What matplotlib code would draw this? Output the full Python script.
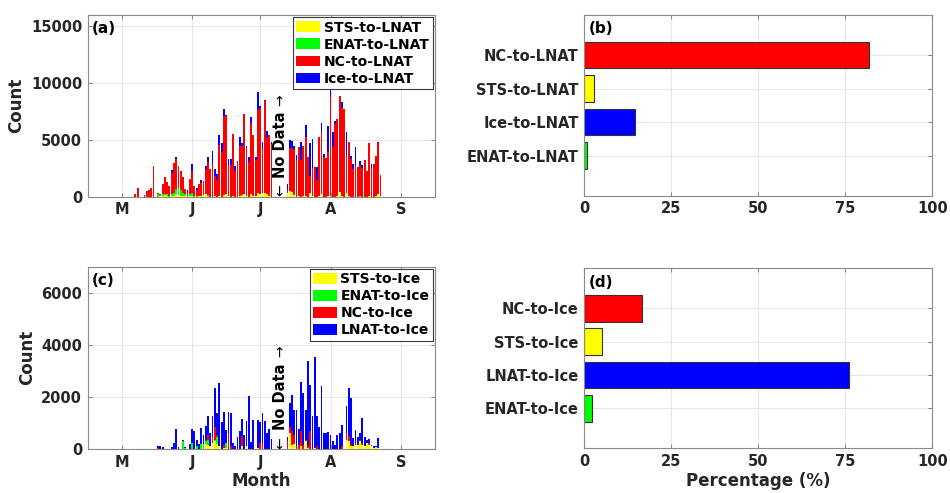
import numpy as np
import pandas as pd
import matplotlib
matplotlib.use("Agg")
import matplotlib.pyplot as plt

plt.rcParams["font.family"] = "DejaVu Sans"
plt.rcParams["font.weight"] = "bold"

# daily counts, 6 May .. 23 Aug (no data 6-11 Jul)
days = pd.date_range("2019-05-06", "2019-08-23", freq="D")

sts_lnat = [0, 0, 0, 0, 0, 0, 0, 0, 0, 0,
            0, 0, 50, 100, 150, 50, 0, 50, 100, 200,
            150, 100, 50, 50, 0, 100, 50, 0, 0, 50,
            50, 150, 200, 100, 0, 0, 50, 0, 100, 0,
            150, 200, 50, 0, 100, 0, 0, 100, 150, 200,
            100, 0, 250, 100, 50, 300, 200, 300, 350, 250,
            100, 0, 0, 0, 0, 0, 0, 0, 300, 500,
            400, 150, 0, 50, 0, 50, 100, 0, 300, 50,
            0, 0, 100, 200, 0, 0, 50, 100, 0, 0,
            50, 400, 100, 0, 300, 100, 0, 0, 0, 0,
            50, 0, 0, 0, 50, 0, 0, 50, 250, 50]
enat_lnat = [0, 0, 0, 0, 0, 0, 0, 0, 0, 0,
             0, 250, 100, 100, 50, 150, 100, 150, 200, 500,
             600, 500, 300, 200, 100, 100, 300, 100, 50, 50,
             0, 0, 0, 50, 0, 0, 0, 0, 0, 0,
             0, 0, 0, 0, 0, 0, 0, 0, 0, 0,
             0, 0, 0, 0, 0, 0, 0, 0, 0, 0,
             0, 0, 0, 0, 0, 0, 0, 0, 0, 0,
             0, 0, 0, 0, 0, 0, 0, 0, 0, 0,
             0, 0, 0, 0, 0, 0, 0, 0, 0, 0,
             0, 0, 0, 0, 0, 0, 0, 0, 0, 0,
             0, 0, 0, 0, 0, 0, 0, 0, 0, 0]
nc_lnat = [0, 250, 750, 0, 0, 150, 500, 600, 750, 2700,
           0, 100, 50, 950, 1550, 1100, 800, 1850, 2700, 2600,
           1950, 1700, 1350, 400, 350, 1400, 1950, 800, 550, 1000,
           1150, 1250, 2200, 2900, 2400, 2900, 1750, 1500, 4430, 3950,
           6970, 6900, 2630, 2800, 5400, 2300, 3100, 4400, 4350, 7100,
           4200, 3050, 6250, 5300, 3150, 7300, 7650, 4000, 8050, 4950,
           5300, 4600, 0, 0, 0, 0, 0, 0, 300, 3830,
           3900, 4050, 3230, 4350, 3200, 4450, 5200, 3500, 1500, 2450,
           2600, 1500, 5200, 5500, 3500, 3400, 3850, 8650, 4400, 6400,
           6750, 8500, 7750, 7700, 3400, 4700, 3300, 2450, 2800, 2600,
           2750, 2500, 3200, 2300, 4650, 2550, 2900, 3550, 4450, 1850]
ice_lnat = [0, 0, 0, 0, 0, 0, 0, 0, 0, 0,
            0, 0, 0, 0, 0, 0, 0, 300, 0, 200,
            0, 0, 0, 50, 150, 0, 600, 0, 200, 0,
            300, 0, 300, 450, 0, 1100, 600, 500, 870, 800,
            580, 100, 670, 500, 0, 400, 0, 800, 200, 0,
            200, 450, 500, 0, 300, 1600, 150, 500, 100, 600,
            0, 200, 0, 0, 0, 0, 0, 0, 500, 670,
            600, 300, 470, 0, 1600, 0, 1000, 0, 2900, 2600,
            0, 1100, 0, 800, 300, 0, 2300, 650, 1300, 300,
            0, 0, 450, 0, 2000, 0, 300, 450, 1600, 0,
            300, 300, 0, 0, 0, 350, 0, 0, 100, 0]

sts_ice = [0, 0, 0, 0, 0, 0, 0, 0, 0, 0,
           0, 0, 0, 0, 0, 0, 0, 0, 0, 0,
           0, 0, 0, 0, 0, 0, 0, 0, 0, 0,
           0, 0, 200, 150, 100, 250, 300, 200, 100, 0,
           50, 50, 0, 0, 0, 0, 0, 0, 100, 0,
           100, 0, 0, 0, 0, 50, 0, 0, 0, 0,
           0, 0, 0, 0, 0, 0, 0, 0, 0, 600,
           150, 200, 0, 0, 100, 0, 300, 50, 0, 0,
           50, 0, 0, 0, 0, 0, 0, 0, 0, 0,
           0, 0, 0, 0, 350, 300, 100, 100, 150, 150,
           300, 150, 100, 250, 150, 100, 50, 80, 50, 0]
enat_ice = [0, 0, 0, 0, 0, 0, 0, 0, 0, 0,
            0, 0, 0, 0, 0, 0, 0, 0, 0, 0,
            0, 0, 300, 40, 0, 0, 250, 0, 100, 0,
            200, 200, 100, 200, 0, 0, 50, 250, 0, 0,
            0, 200, 0, 0, 0, 0, 0, 0, 0, 0,
            0, 0, 0, 0, 0, 0, 0, 0, 0, 0,
            0, 0, 0, 0, 0, 0, 0, 0, 0, 0,
            0, 0, 0, 0, 0, 0, 0, 0, 0, 0,
            0, 0, 0, 0, 0, 0, 0, 0, 0, 0,
            0, 0, 0, 0, 0, 0, 0, 0, 0, 0,
            0, 0, 0, 0, 0, 0, 0, 0, 0, 0]
nc_ice = [0, 0, 0, 0, 0, 0, 0, 0, 0, 0,
          0, 40, 0, 0, 0, 0, 0, 0, 0, 0,
          0, 0, 0, 0, 0, 0, 0, 0, 0, 0,
          0, 0, 50, 200, 0, 200, 500, 100, 0, 0,
          100, 0, 600, 100, 0, 0, 0, 0, 400, 0,
          0, 0, 0, 0, 0, 0, 250, 250, 0, 0,
          0, 0, 0, 0, 0, 0, 0, 0, 300, 250,
          550, 350, 100, 150, 600, 150, 50, 50, 700, 0,
          0, 100, 0, 0, 0, 0, 0, 0, 0, 0,
          0, 0, 100, 0, 250, 200, 100, 0, 100, 0,
          50, 100, 0, 0, 100, 0, 0, 0, 0, 0]
lnat_ice = [0, 0, 0, 0, 0, 0, 0, 0, 0, 0,
            0, 60, 120, 60, 0, 0, 0, 90, 220, 770,
            90, 0, 50, 20, 0, 180, 520, 690, 250, 200,
            600, 340, 550, 700, 500, 800, 1490, 825, 2430, 1050,
            1290, 480, 825, 1300, 250, 100, 450, 700, 640, 550,
            990, 2020, 280, 1100, 0, 1070, 800, 1150, 1090, 630,
            760, 370, 0, 0, 0, 0, 0, 0, 150, 910,
            1380, 950, 1400, 610, 1870, 2000, 1150, 3270, 1770, 1250,
            3480, 1170, 860, 2430, 600, 600, 650, 540, 320, 150,
            540, 600, 825, 0, 1060, 1860, 1750, 310, 480, 300,
            250, 930, 380, 100, 130, 50, 50, 20, 390, 0]

# percentages (panels b, d), top to bottom
lnat_src = ["NC-to-LNAT", "STS-to-LNAT", "Ice-to-LNAT", "ENAT-to-LNAT"]
lnat_pct = [81.8, 2.8, 14.5, 0.9]
ice_src = ["NC-to-Ice", "STS-to-Ice", "LNAT-to-Ice", "ENAT-to-Ice"]
ice_pct = [16.6, 5.1, 76.2, 2.1]

month_ticks = pd.to_datetime(["2019-05-01", "2019-06-01", "2019-07-01",
                              "2019-08-01", "2019-09-01"])
month_labels = ["M", "J", "J", "A", "S"]

YEL, GRN, RED, BLU = "#ffff00", "#00ff00", "#ff0000", "#0000ff"
SPINE = "#8a8a8a"
TXT = "#262626"


def style(ax):
    for s in ax.spines.values():
        s.set_color(SPINE)
        s.set_linewidth(0.8)
    ax.grid(True, color="#e3e3e3", lw=0.6)
    ax.set_axisbelow(True)
    ax.tick_params(direction="in", length=3, color=SPINE, labelcolor=TXT,
                   labelsize=10.5, top=True, right=True, pad=4)


def stacked(ax, series, labels, colors, ymax, yticks, tag, arrows_y):
    bottom = np.zeros(len(days))
    for vals, lab, col in zip(series, labels, colors):
        v = np.array(vals, dtype=float)
        ax.bar(days, v, width=0.8, bottom=bottom, color=col, label=lab,
               edgecolor="none", linewidth=0)
        bottom += v
    style(ax)
    ax.set_xlim(pd.Timestamp("2019-04-16"), pd.Timestamp("2019-09-16"))
    ax.set_ylim(0, ymax)
    ax.set_yticks(yticks)
    ax.set_xticks(month_ticks)
    ax.set_xticklabels(month_labels)
    ax.set_ylabel("Count", fontsize=12, fontweight="bold", color=TXT)
    ax.text(0.012, 0.965, tag, transform=ax.transAxes, ha="left", va="top",
            fontsize=11, fontweight="bold", color="black")
    leg = ax.legend(loc="upper right", fontsize=10, frameon=True,
                    fancybox=False, framealpha=1, borderaxespad=0.15,
                    handlelength=1.7, handleheight=0.8, handletextpad=0.25,
                    labelspacing=0.22, borderpad=0.25)
    leg.get_frame().set_edgecolor("#3a3a3a")
    leg.get_frame().set_linewidth(0.8)
    xt = pd.Timestamp("2019-07-10")
    up, mid, down = arrows_y
    ax.text(xt, mid, "No Data", rotation=90, ha="center", va="center",
            fontsize=10.5, fontweight="bold", color="black")
    ax.text(xt, up, "\u2192", rotation=90, ha="center", va="center",
            fontsize=10, fontweight="normal", color="black")
    ax.text(xt, down, "\u2190", rotation=90, ha="center", va="center",
            fontsize=10, fontweight="normal", color="black")


def horiz(ax, names, pct, colors, tag):
    pos = [4, 3, 2, 1]
    ax.barh(pos, pct, height=0.8, color=colors, edgecolor="#333333",
            linewidth=0.8)
    style(ax)
    ax.set_xlim(0, 100)
    ax.set_ylim(-0.2, 5.2)
    ax.set_xticks([0, 25, 50, 75, 100])
    ax.set_yticks(pos)
    ax.set_yticklabels(names)
    ax.tick_params(axis="y", labelsize=10.5)
    ax.text(0.012, 0.965, tag, transform=ax.transAxes, ha="left", va="top",
            fontsize=11, fontweight="bold", color="black")


fig = plt.figure(figsize=(9.5, 4.93), dpi=100)
ax_a = fig.add_axes([0.0923, 0.601, 0.3656, 0.3686])
ax_b = fig.add_axes([0.615, 0.603, 0.3663, 0.367])
ax_c = fig.add_axes([0.0923, 0.0892, 0.3656, 0.3698])
ax_d = fig.add_axes([0.615, 0.0906, 0.3663, 0.365])

stacked(ax_a, [sts_lnat, enat_lnat, nc_lnat, ice_lnat],
        ["STS-to-LNAT", "ENAT-to-LNAT", "NC-to-LNAT", "Ice-to-LNAT"],
        [YEL, GRN, RED, BLU], 16000, [0, 5000, 10000, 15000], "(a)",
        (8500, 4600, 550))
stacked(ax_c, [sts_ice, enat_ice, nc_ice, lnat_ice],
        ["STS-to-Ice", "ENAT-to-Ice", "NC-to-Ice", "LNAT-to-Ice"],
        [YEL, GRN, RED, BLU], 7000, [0, 2000, 4000, 6000], "(c)",
        (3750, 2000, 230))
ax_c.set_xlabel("Month", fontsize=12, fontweight="bold", color=TXT, labelpad=2)

horiz(ax_b, lnat_src, lnat_pct, [RED, YEL, BLU, GRN], "(b)")
horiz(ax_d, ice_src, ice_pct, [RED, YEL, BLU, GRN], "(d)")
ax_d.set_xlabel("Percentage (%)", fontsize=12, fontweight="bold", color=TXT,
                labelpad=2)

fig.savefig("out.png", dpi=100)
